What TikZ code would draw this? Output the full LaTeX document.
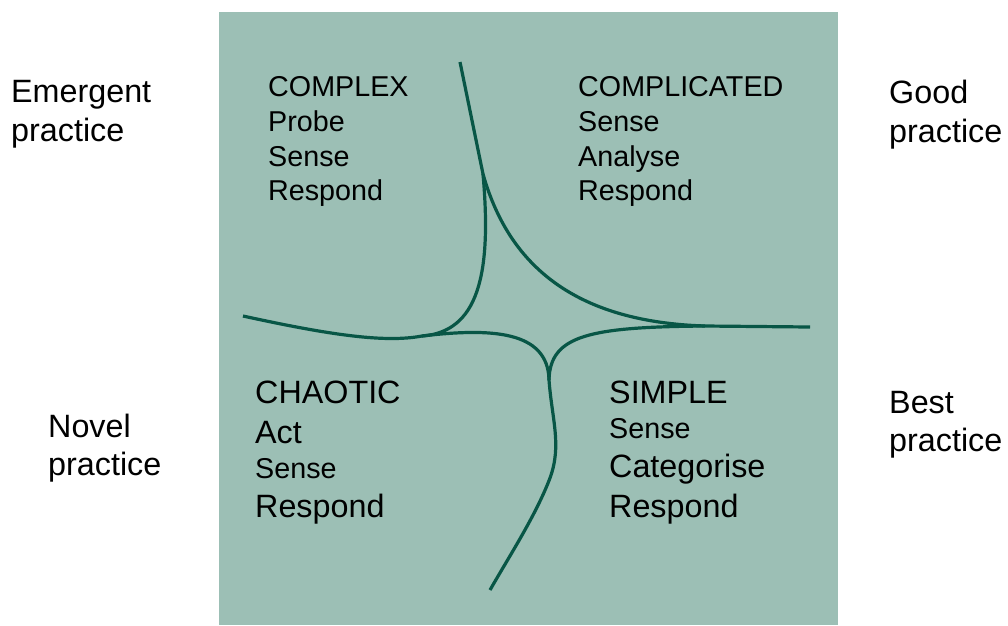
\documentclass[tikz,border=0pt]{standalone}
\usepackage{fontspec}
\setmainfont{Liberation Sans}
\definecolor{panelgreen}{RGB}{156,191,181}
\definecolor{curvegreen}{RGB}{8,86,70}

\begin{document}
\begin{tikzpicture}[x=1pt,y=-1pt,
    lbl/.style={anchor=base west, inner sep=0pt, font=\fontsize{32.3}{38}\selectfont},
    lblsmall/.style={lbl, font=\fontsize{28.7}{34}\selectfont},
    boundary/.style={draw=curvegreen, line width=3.2pt}]
    \useasboundingbox (0,0) rectangle (1008,625);
    \fill[panelgreen] (219,12) rectangle (838,625);

    % cusps and loose ends of the boundaries
    \coordinate (topend) at (460,62);
    \coordinate (topcusp) at (483,174);
    \coordinate (leftend) at (243,316);
    \coordinate (leftcusp) at (422,336);
    \coordinate (rightcusp) at (705,326);
    \coordinate (rightend) at (810,327);
    \coordinate (botcusp) at (549,380);
    \coordinate (botbend) at (550,478);
    \coordinate (botend) at (490,590);

    \draw[boundary] (topend) -- (topcusp);
    \draw[boundary] (topcusp) .. controls (492,275) and (478,332) .. (leftcusp);
    \draw[boundary] (topcusp) .. controls (510,270) and (580,322) .. (rightcusp);
    \draw[boundary] (leftend) .. controls (330,335) and (385,343) .. (leftcusp)
        .. controls (490,328) and (548,330) .. (botcusp);
    \draw[boundary] (botcusp) .. controls (550,335) and (590,327) .. (rightcusp) -- (rightend);
    \draw[boundary] (botcusp) .. controls (552,420) and (562,445) .. (botbend)
        .. controls (536,515) and (510,555) .. (botend);

    % side labels
    \node[lbl] (emergent) at (11,102) {Emergent};
    \node[lbl] (emergent2) at (11,141) {practice};
    \node[lbl] (good) at (889,103) {Good};
    \node[lbl] (good2) at (889,142) {practice};
    \node[lbl] (novel) at (48,437) {Novel};
    \node[lbl] (novel2) at (48,475) {practice};
    \node[lbl] (best) at (889,413) {Best};
    \node[lbl] (best2) at (889,451) {practice};

    % complex
    \node[lblsmall] (complex) at (268,96) {COMPLEX};
    \node[lblsmall] (complex2) at (268,131) {Probe};
    \node[lblsmall] (complex3) at (268,166) {Sense};
    \node[lblsmall] (complex4) at (268,200) {Respond};

    % complicated
    \node[lblsmall] (complicated) at (578,96) {COMPLICATED};
    \node[lblsmall] (complicated2) at (578,131) {Sense};
    \node[lblsmall] (complicated3) at (578,166) {Analyse};
    \node[lblsmall] (complicated4) at (578,200) {Respond};

    % chaotic
    \node[lbl] (chaotic) at (255,403) {CHAOTIC};
    \node[lbl] (chaotic2) at (255,443) {Act};
    \node[lblsmall] (chaotic3) at (255,478) {Sense};
    \node[lbl] (chaotic4) at (255,517) {Respond};

    % simple
    \node[lbl] (simple) at (609,403) {SIMPLE};
    \node[lblsmall] (simple2) at (609,438) {Sense};
    \node[lbl] (simple3) at (609,477) {Categorise};
    \node[lbl] (simple4) at (609,517) {Respond};
\end{tikzpicture}
\end{document}
